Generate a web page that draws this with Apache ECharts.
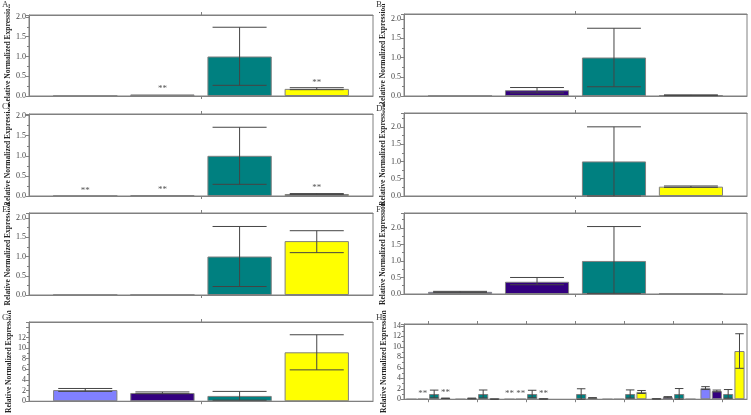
<!DOCTYPE html>
<html>
<head>
<meta charset="utf-8">
<script src="https://cdn.jsdelivr.net/npm/echarts@6/dist/echarts.min.js"></script>
<style>
  html, body { margin: 0; padding: 0; background: #fff; }
  #chart { width: 751px; height: 415px; }
</style>
</head>
<body>
<div id="chart"></div>
<script>
// panels A-G, panel H repeats them side by side
var groups = ['A', 'B', 'C', 'D', 'E', 'F', 'G'];

// bar means per series (one value per panel)
var lavender = [0.005, 0.005, 0.005, null, 0.005, 0.065, 2.1];
var purple   = [0.04, 0.15, 0.02, null, 0.005, 0.37, 1.55];
var teal     = [1.0, 1.0, 1.0, 1.0, 1.0, 1.0, 1.0];
var yellow   = [0.18, 0.02, 0.05, 0.27, 1.4, 0.01, 9.2];

// error bar ends
var lavenderLo = [null, null, null, null, null, 0.05, 1.85];
var lavenderHi = [null, null, null, null, null, 0.08, 2.4];
var purpleLo   = [null, 0.08, null, null, null, 0.28, 1.4];
var purpleHi   = [null, 0.22, null, null, null, 0.5, 1.75];
var tealLo     = [0.27, 0.24, 0.29, 0.0, 0.22, 0.02, 0.2];
var tealHi     = [1.74, 1.76, 1.71, 2.0, 1.78, 2.04, 1.85];
var yellowLo   = [0.16, 0.01, 0.04, 0.25, 1.1, null, 5.9];
var yellowHi   = [0.21, 0.03, 0.06, 0.29, 1.67, null, 12.5];

// significance marks (**)
var lavenderStar = [0, 0, 1, 0, 0, 0, 0];
var purpleStar   = [1, 0, 1, 0, 0, 0, 0];
var tealStar     = [0, 0, 0, 0, 0, 0, 0];
var yellowStar   = [1, 0, 1, 0, 0, 0, 0];

// y axis ranges, panels A-H
var yMax = [2.05, 2.13, 2.04, 2.4, 2.13, 2.45, 14.9, 14.36];
var yStep = [0.5, 0.5, 0.5, 0.5, 0.5, 0.5, 2, 2];
var yLabelMax = [2, 2, 2, 2, 2, 2, 12, 14];
var yName = 'Relative Normalized Expression';

var means = [lavender, purple, teal, yellow];
var lows = [lavenderLo, purpleLo, tealLo, yellowLo];
var highs = [lavenderHi, purpleHi, tealHi, yellowHi];
var stars = [lavenderStar, purpleStar, tealStar, yellowStar];
var colors = ['#8080FF', '#33007F', '#008080', '#FFFF00'];

var gridPos = [
  { left: 29, top: 15, width: 344, height: 81 },
  { left: 404, top: 14, width: 343, height: 82 },
  { left: 29, top: 114, width: 344, height: 82 },
  { left: 404, top: 113, width: 343, height: 83 },
  { left: 29, top: 213, width: 344, height: 82 },
  { left: 404, top: 213, width: 343, height: 81 },
  { left: 29, top: 322, width: 344, height: 83 },
  { left: 404, top: 324, width: 343, height: 80 }
];
var letterPos = [[2, 0], [376, 0], [2, 102], [376, 104], [2, 205], [376, 205], [2, 313], [376, 313]];

var font = 'Liberation Serif';
var axisGrey = '#808080';

function makeErr(catGap, barGap) {
  return function (params, api) {
    var cat = api.value(0), s = api.value(1);
    var lo = api.value(2), hi = api.value(3), star = api.value(4), val = api.value(5);
    var band = api.size([1, 0])[0];
    var n = 4;
    var bw = band * (1 - catGap) / (n + (n - 1) * barGap);
    var total = n * bw + (n - 1) * barGap * bw;
    var cx = api.coord([cat, 0])[0] - total / 2 + s * bw * (1 + barGap) + bw / 2;
    var kids = [];
    var st = { stroke: '#444', lineWidth: 1 };
    if (!isNaN(lo) && !isNaN(hi)) {
      var yl = api.coord([cat, lo])[1], yh = api.coord([cat, hi])[1];
      var cw = bw * 0.42;
      kids.push({ type: 'line', shape: { x1: cx, y1: yl, x2: cx, y2: yh }, style: st });
      kids.push({ type: 'line', shape: { x1: cx - cw, y1: yh, x2: cx + cw, y2: yh }, style: st });
      kids.push({ type: 'line', shape: { x1: cx - cw, y1: yl, x2: cx + cw, y2: yl }, style: st });
    }
    if (star) {
      var top = isNaN(val) ? 0 : val;
      if (!isNaN(hi)) top = Math.max(top, hi);
      var ys = api.coord([cat, top])[1];
      kids.push({
        type: 'text',
        style: { x: cx, y: ys - 1, text: '**', fill: '#555', font: '9px "' + font + '"', align: 'center', verticalAlign: 'bottom' }
      });
    }
    return { type: 'group', children: kids };
  };
}

var grids = [], xAxes = [], yAxes = [], series = [], graphics = [];

for (var p = 0; p < 8; p++) {
  var isH = p === 7;
  var cats = isH ? groups : [groups[p]];
  grids.push(Object.assign({ show: true, borderColor: axisGrey, borderWidth: 1 }, gridPos[p]));

  ['bottom', 'top'].forEach(function (pos) {
    xAxes.push({
      type: 'category', gridIndex: p, position: pos, data: cats,
      axisLine: { show: true, lineStyle: { color: axisGrey } },
      axisTick: { show: true, alignWithLabel: true, length: 3, lineStyle: { color: axisGrey } },
      axisLabel: { show: false }
    });
  });

  (function (p) {
    yAxes.push({
      type: 'value', gridIndex: p, min: 0, max: yMax[p], interval: yStep[p],
      axisLine: { show: true, lineStyle: { color: axisGrey } },
      axisTick: { show: true, length: 3, lineStyle: { color: axisGrey } },
      minorTick: { show: true, splitNumber: 2, length: 2, lineStyle: { color: axisGrey } },
      splitLine: { show: false },
      axisLabel: {
        fontFamily: font, fontSize: 8, color: '#444', margin: 3,
        formatter: function (v) {
          var k = v / yStep[p];
          if (Math.abs(k - Math.round(k)) > 1e-6 || v > yLabelMax[p] + 1e-6) return '';
          return yStep[p] < 1 ? v.toFixed(1) : String(v);
        }
      },
      name: yName, nameLocation: 'middle', nameGap: 16,
      nameTextStyle: { fontFamily: font, fontSize: 7.5, fontWeight: 'bold', color: '#222' }
    });
  })(p);

  var catGap = isH ? 0.1 : 0.14, barGap = isH ? 0.12 : 0.2;
  for (var s = 0; s < 4; s++) {
    series.push({
      type: 'bar', xAxisIndex: 2 * p, yAxisIndex: p,
      barCategoryGap: (catGap * 100) + '%', barGap: (barGap * 100) + '%',
      data: isH ? means[s] : [means[s][p]],
      itemStyle: { color: colors[s], borderColor: axisGrey, borderWidth: 1 },
      silent: true
    });
  }

  var errData = [];
  var gList = isH ? [0, 1, 2, 3, 4, 5, 6] : [p];
  gList.forEach(function (g, ci) {
    for (var s = 0; s < 4; s++) {
      if (lows[s][g] == null && !stars[s][g]) continue;
      errData.push([ci, s, lows[s][g], highs[s][g], stars[s][g], means[s][g]]);
    }
  });
  series.push({
    type: 'custom', xAxisIndex: 2 * p, yAxisIndex: p,
    renderItem: makeErr(catGap, barGap), data: errData, silent: true, z: 5,
    encode: { x: 0, y: 2 }
  });

  graphics.push({
    type: 'text', left: letterPos[p][0], top: letterPos[p][1], z: 100,
    style: { text: isH ? 'H' : groups[p], font: '9px "' + font + '"', fill: '#444', backgroundColor: '#fff' }
  });
}

var chart = echarts.init(document.getElementById('chart'));
chart.setOption({
  animation: false,
  backgroundColor: '#fff',
  grid: grids,
  xAxis: xAxes,
  yAxis: yAxes,
  series: series,
  graphic: graphics
});
</script>
</body>
</html>
